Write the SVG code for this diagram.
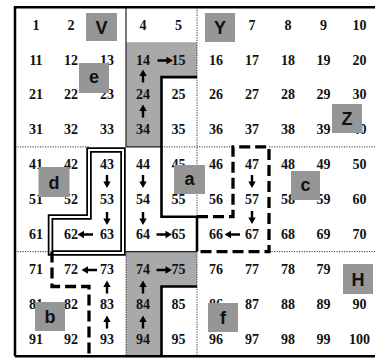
<svg xmlns="http://www.w3.org/2000/svg" width="375" height="358" viewBox="0 0 375 358">
<style>
.n{font-family:"Liberation Serif","Times New Roman",serif;font-weight:bold;font-size:14px;fill:#111;text-anchor:middle}
.l{font-family:"Liberation Sans",Arial,sans-serif;font-weight:bold;font-size:18px;fill:#111;text-anchor:middle}
.lb{fill:#969696}
.sh{fill:#a9a9a9}
.dot{stroke:#333;stroke-width:1;stroke-dasharray:1.2 1.3;fill:none}
.thin{stroke:#222;stroke-width:1.2;fill:none}
.thick{stroke:#000;stroke-width:2.6;fill:none}
.dash{stroke:#000;stroke-width:3.3;stroke-dasharray:11 5;fill:none}
.frame{stroke:#000;stroke-width:2.5;fill:none}
.arr{fill:#000}
</style>
<defs>
<path id="ah" d="M-8,-1.2 H1 V-3.7 L7.5,0 L1,3.7 V1.2 H-8 Z"/>
<path id="av" d="M-1.2,-6.5 H1.2 V0 H3.7 L0,6.5 L-3.7,0 H-1.2 Z"/>
</defs>
<rect width="375" height="358" fill="#fff"/>
<g id="regions">
<path class="sh" d="M126,42.2 H197 V77.1 H161.5 V146.9 H126 Z"/>
<path class="sh" d="M126,251.6 H197 V286.5 H161.5 V356.3 H126 Z"/>
</g>
<g id="grid">
<path class="dot" d="M15,146.9 H89 M161.5,146.9 H233 M269,146.9 H375"/>
<path class="dot" d="M15,251.6 H52 M269,251.6 H375"/>
<path class="dot" d="M197,7.3 V216.7 M197,251.6 V356.3 M126,251.6 V356.3"/>
<path class="thin" d="M126,7.3 V146.9 M126,146.9 H161.5 M126,251.6 H197"/>
<path class="frame" d="M15,356.3 V7.3 H375 M15,356.3 H375"/>
<path class="thick" d="M197,77.1 H161.5 V216.7 H197 V251.6"/>
<path class="thick" d="M197,286.5 H161.5 V356.3"/>
<g id="double-box">
<path d="M89,150 H123 V253 H50.5 V217 H89 Z" fill="none" stroke="#000" stroke-width="5.5"/>
<path d="M89,150 H123 V253 H50.5 V217 H89 Z" fill="none" stroke="#fff" stroke-width="2"/>
</g>
<path class="dash" d="M197,216.7 H233 V146.9 H269 V251.6 H197"/>
<path class="dash" d="M52,251.6 V286.5 H89 V356.3"/>
</g>
<g id="numbers" class="n">
<text x="36" y="29.6">1</text><text x="71" y="29.6">2</text><text x="143" y="29.6">4</text><text x="178.5" y="29.6">5</text><text x="252" y="29.6">7</text><text x="288" y="29.6">8</text><text x="323.5" y="29.6">9</text><text x="359.5" y="29.6">10</text>
<text x="36" y="64.5">11</text><text x="71" y="64.5">12</text><text x="107" y="64.5">13</text><text x="143" y="64.5">14</text><text x="178.5" y="64.5">15</text><text x="216" y="64.5">16</text><text x="252" y="64.5">17</text><text x="288" y="64.5">18</text><text x="323.5" y="64.5">19</text><text x="359.5" y="64.5">20</text>
<text x="36" y="99.4">21</text><text x="71" y="99.4">22</text><text x="107" y="99.4">23</text><text x="143" y="99.4">24</text><text x="178.5" y="99.4">25</text><text x="216" y="99.4">26</text><text x="252" y="99.4">27</text><text x="288" y="99.4">28</text><text x="323.5" y="99.4">29</text><text x="359.5" y="99.4">30</text>
<text x="36" y="134.3">31</text><text x="71" y="134.3">32</text><text x="107" y="134.3">33</text><text x="143" y="134.3">34</text><text x="178.5" y="134.3">35</text><text x="216" y="134.3">36</text><text x="252" y="134.3">37</text><text x="288" y="134.3">38</text><text x="323.5" y="134.3">39</text><text x="359.5" y="134.3">40</text>
<text x="36" y="169.2">41</text><text x="71" y="169.2">42</text><text x="107" y="169.2">43</text><text x="143" y="169.2">44</text><text x="178.5" y="169.2">45</text><text x="216" y="169.2">46</text><text x="252" y="169.2">47</text><text x="288" y="169.2">48</text><text x="323.5" y="169.2">49</text><text x="359.5" y="169.2">50</text>
<text x="36" y="204.1">51</text><text x="71" y="204.1">52</text><text x="107" y="204.1">53</text><text x="143" y="204.1">54</text><text x="178.5" y="204.1">55</text><text x="216" y="204.1">56</text><text x="252" y="204.1">57</text><text x="288" y="204.1">58</text><text x="323.5" y="204.1">59</text><text x="359.5" y="204.1">60</text>
<text x="36" y="239">61</text><text x="71" y="239">62</text><text x="107" y="239">63</text><text x="143" y="239">64</text><text x="178.5" y="239">65</text><text x="216" y="239">66</text><text x="252" y="239">67</text><text x="288" y="239">68</text><text x="323.5" y="239">69</text><text x="359.5" y="239">70</text>
<text x="36" y="273.9">71</text><text x="71" y="273.9">72</text><text x="107" y="273.9">73</text><text x="143" y="273.9">74</text><text x="178.5" y="273.9">75</text><text x="216" y="273.9">76</text><text x="252" y="273.9">77</text><text x="288" y="273.9">78</text><text x="323.5" y="273.9">79</text>
<text x="36" y="308.8">81</text><text x="71" y="308.8">82</text><text x="107" y="308.8">83</text><text x="143" y="308.8">84</text><text x="178.5" y="308.8">85</text><text x="216" y="308.8">86</text><text x="252" y="308.8">87</text><text x="288" y="308.8">88</text><text x="323.5" y="308.8">89</text><text x="359.5" y="308.8">90</text>
<text x="36" y="343.7">91</text><text x="71" y="343.7">92</text><text x="107" y="343.7">93</text><text x="143" y="343.7">94</text><text x="178.5" y="343.7">95</text><text x="216" y="343.7">96</text><text x="252" y="343.7">97</text><text x="288" y="343.7">98</text><text x="323.5" y="343.7">99</text><text x="359.5" y="343.7">100</text>
</g>
<g id="connectors" class="arr">
<use href="#ah" transform="translate(165.5,60.5)"/>
<use href="#ah" transform="translate(164.5,234.5)"/>
<use href="#ah" transform="translate(164.5,270)"/>
<use href="#ah" transform="translate(85,234.5) rotate(180)"/>
<use href="#ah" transform="translate(232,234.5) rotate(180)"/>
<use href="#ah" transform="translate(89,270) rotate(180)"/>
<use href="#av" transform="translate(107,181.5)"/>
<use href="#av" transform="translate(107,218.5)"/>
<use href="#av" transform="translate(143,181.5)"/>
<use href="#av" transform="translate(143,218.5)"/>
<use href="#av" transform="translate(252,181.5)"/>
<use href="#av" transform="translate(252,217.5)"/>
<use href="#av" transform="translate(143,76) rotate(180)"/>
<use href="#av" transform="translate(143,111) rotate(180)"/>
<use href="#av" transform="translate(107,287) rotate(180)"/>
<use href="#av" transform="translate(107,322) rotate(180)"/>
<use href="#av" transform="translate(143,287) rotate(180)"/>
<use href="#av" transform="translate(143,322) rotate(180)"/>
</g>
<g id="label-V"><rect class="lb" x="86" y="13" width="31" height="28"/><text class="l" x="101.5" y="33.5">V</text></g>
<g id="label-e"><rect class="lb" x="79" y="63" width="30" height="30"/><text class="l" x="94" y="83">e</text></g>
<g id="label-Y"><rect class="lb" x="205" y="13" width="30" height="29"/><text class="l" x="220" y="34">Y</text></g>
<g id="label-Z"><rect class="lb" x="332" y="104" width="30" height="29"/><text class="l" x="347" y="125">Z</text></g>
<g id="label-d"><rect class="lb" x="38.5" y="167" width="31" height="30"/><text class="l" x="54" y="188.5">d</text></g>
<g id="label-a"><rect class="lb" x="174" y="165" width="31" height="29"/><text class="l" x="189.5" y="184.5">a</text></g>
<g id="label-c"><rect class="lb" x="291" y="171" width="29" height="29"/><text class="l" x="305.5" y="190.5">c</text></g>
<g id="label-H"><rect class="lb" x="343" y="264" width="30" height="30"/><text class="l" x="358" y="285.5">H</text></g>
<g id="label-f"><rect class="lb" x="208" y="303" width="30" height="29"/><text class="l" x="223" y="324">f</text></g>
<g id="label-b"><rect class="lb" x="35" y="302" width="30" height="29"/><text class="l" x="50" y="323">b</text></g>
</svg>
